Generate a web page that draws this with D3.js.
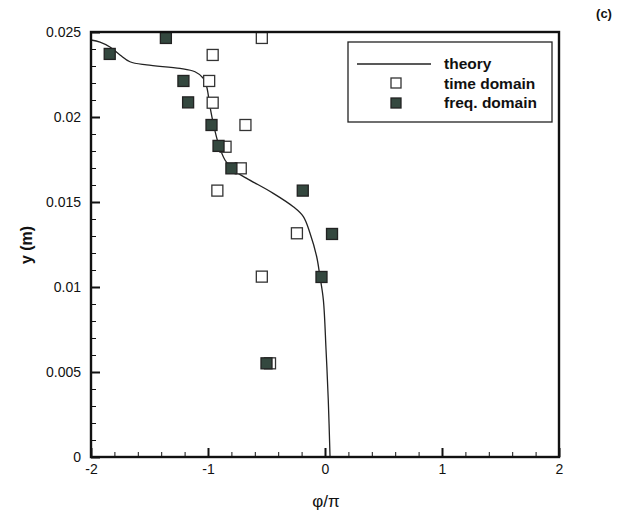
<!DOCTYPE html>
<html>
<head>
<meta charset="utf-8">
<script src="https://cdn.jsdelivr.net/npm/d3@7"></script>
<style>
  html, body { margin: 0; padding: 0; background: #fff; }
  svg { display: block; font-family: "Liberation Sans", Arial, Helvetica, sans-serif; }
</style>
</head>
<body>
<svg id="chart" width="639" height="518"></svg>
<script>
// Phase profile phi/pi versus height y (m)
const theoryPhi = [-2.0, -1.923, -1.838, -1.752, -1.667, -1.524, -1.239, -1.111, -1.040, -1.011, -0.983, -0.955, -0.912, -0.855, -0.784, -0.669, -0.442, -0.271, -0.185, -0.128, -0.071, -0.043, -0.014, 0.009, 0.028, 0.043];
const theoryY   = [0.02453, 0.02441, 0.02412, 0.02365, 0.02325, 0.02306, 0.02286, 0.02266, 0.02228, 0.02178, 0.02061, 0.01963, 0.01845, 0.01747, 0.01688, 0.01639, 0.01551, 0.01472, 0.01414, 0.01316, 0.01178, 0.01061, 0.00924, 0.00629, 0.00335, 0.0];

const timePhi = [-0.54, -0.96, -0.99, -0.96, -0.68, -0.85, -0.72, -0.92, -0.24, -0.54, -0.47];
const timeY   = [0.02465, 0.02365, 0.02212, 0.02084, 0.01953, 0.01825, 0.01698, 0.01567, 0.01316, 0.01061, 0.00551];

const freqPhi = [-1.84, -1.36, -1.21, -1.17, -0.97, -0.91, -0.80, -0.19, 0.06, -0.03, -0.50];
const freqY   = [0.02371, 0.02465, 0.02212, 0.02086, 0.01953, 0.0183, 0.01698, 0.01567, 0.01312, 0.01059, 0.00551];

const xTicks = [-2, -1, 0, 1, 2];
const yTicks = [0, 0.005, 0.01, 0.015, 0.02, 0.025];
const xTickLabels = ["-2", "-1", "0", "1", "2"];
const yTickLabels = ["0", "0.005", "0.01", "0.015", "0.02", "0.025"];
const legendLabels = ["theory", "time domain", "freq. domain"];

const svg = d3.select("#chart");
const L = 91, R = 559, T = 32, B = 457;

const x = d3.scaleLinear().domain([-2, 2]).range([L, R]);
const y = d3.scaleLinear().domain([0, 0.025]).range([B, T]);

const ink = "#111";
const fillDark = "#34483f";

// minor ticks (drawn inward)
const xMinor = d3.range(-2, 2.0001, 0.2).filter(v => Math.abs(v - Math.round(v)) > 1e-6);
const yMinor = d3.range(0, 0.02501, 0.001).filter(v => Math.abs(v / 0.005 - Math.round(v / 0.005)) > 1e-6);

svg.append("g")
  .attr("transform", `translate(0,${B})`)
  .call(d3.axisBottom(x).tickValues(xMinor).tickSize(-5).tickFormat(""))
  .call(g => g.select(".domain").remove())
  .call(g => g.selectAll("line").attr("stroke", ink).attr("stroke-width", 1));

svg.append("g")
  .attr("transform", `translate(${L},0)`)
  .call(d3.axisLeft(y).tickValues(yMinor).tickSize(-5).tickFormat(""))
  .call(g => g.select(".domain").remove())
  .call(g => g.selectAll("line").attr("stroke", ink).attr("stroke-width", 1));

// major ticks and labels
svg.append("g")
  .attr("transform", `translate(0,${B})`)
  .call(d3.axisBottom(x).tickValues(xTicks).tickSize(-9).tickPadding(7)
    .tickFormat((d, i) => xTickLabels[i]))
  .call(g => g.select(".domain").remove())
  .call(g => g.selectAll("line").attr("stroke", ink).attr("stroke-width", 2))
  .call(g => g.selectAll("text").attr("fill", ink).attr("font-size", 14)
    .attr("font-family", "Liberation Sans, Arial, sans-serif"));

svg.append("g")
  .attr("transform", `translate(${L},0)`)
  .call(d3.axisLeft(y).tickValues(yTicks).tickSize(-9).tickPadding(10)
    .tickFormat((d, i) => yTickLabels[i]))
  .call(g => g.select(".domain").remove())
  .call(g => g.selectAll("line").attr("stroke", ink).attr("stroke-width", 2))
  .call(g => g.selectAll("text").attr("fill", ink).attr("font-size", 14)
    .attr("font-family", "Liberation Sans, Arial, sans-serif"));

// theory curve
const line = d3.line()
  .x((d, i) => x(theoryPhi[i]))
  .y((d, i) => y(theoryY[i]))
  .curve(d3.curveCatmullRom.alpha(0.5));

svg.append("path")
  .attr("d", line(theoryPhi))
  .attr("fill", "none")
  .attr("stroke", "#222")
  .attr("stroke-width", 1.3);

// markers
const S = 11;
svg.append("g").selectAll("rect")
  .data(timePhi)
  .join("rect")
  .attr("x", (d, i) => x(d) - S / 2)
  .attr("y", (d, i) => y(timeY[i]) - S / 2)
  .attr("width", S).attr("height", S)
  .attr("fill", "#fff")
  .attr("stroke", "#333")
  .attr("stroke-width", 1.3);

svg.append("g").selectAll("rect")
  .data(freqPhi)
  .join("rect")
  .attr("x", (d, i) => x(d) - S / 2)
  .attr("y", (d, i) => y(freqY[i]) - S / 2)
  .attr("width", S).attr("height", S)
  .attr("fill", fillDark)
  .attr("stroke", "#222")
  .attr("stroke-width", 1.3);

// plot frame
svg.append("rect")
  .attr("x", L).attr("y", T)
  .attr("width", R - L).attr("height", B - T)
  .attr("fill", "none")
  .attr("stroke", ink)
  .attr("stroke-width", 2.4);

// legend
const lg = svg.append("g");
lg.append("rect")
  .attr("x", 348).attr("y", 42).attr("width", 204).attr("height", 80)
  .attr("fill", "#fff").attr("stroke", "#222").attr("stroke-width", 1.3);
lg.append("line")
  .attr("x1", 357).attr("x2", 431).attr("y1", 64).attr("y2", 64)
  .attr("stroke", "#222").attr("stroke-width", 1.3);
lg.append("rect")
  .attr("x", 391).attr("y", 78).attr("width", 10).attr("height", 10)
  .attr("fill", "#fff").attr("stroke", "#333").attr("stroke-width", 1.3);
lg.append("rect")
  .attr("x", 391).attr("y", 98).attr("width", 10).attr("height", 10)
  .attr("fill", fillDark).attr("stroke", "#222").attr("stroke-width", 1.3);
lg.selectAll("text")
  .data(legendLabels)
  .join("text")
  .attr("x", 444)
  .attr("y", (d, i) => 69 + i * 19.5)
  .attr("font-size", 15.5)
  .attr("font-weight", "bold")
  .attr("fill", ink)
  .text(d => d);

// axis titles
svg.append("text")
  .attr("transform", `translate(32,245) rotate(-90)`)
  .attr("text-anchor", "middle")
  .attr("font-size", 16)
  .attr("font-weight", "bold")
  .attr("fill", ink)
  .text("y (m)");

svg.append("text")
  .attr("x", x(0) + 1)
  .attr("y", 507)
  .attr("text-anchor", "middle")
  .attr("font-size", 17)
  .attr("fill", ink)
  .text("\u03c6/\u03c0");

svg.append("text")
  .attr("x", 604)
  .attr("y", 18)
  .attr("text-anchor", "middle")
  .attr("font-size", 13)
  .attr("font-weight", "bold")
  .attr("fill", ink)
  .text("(c)");
</script>
</body>
</html>
